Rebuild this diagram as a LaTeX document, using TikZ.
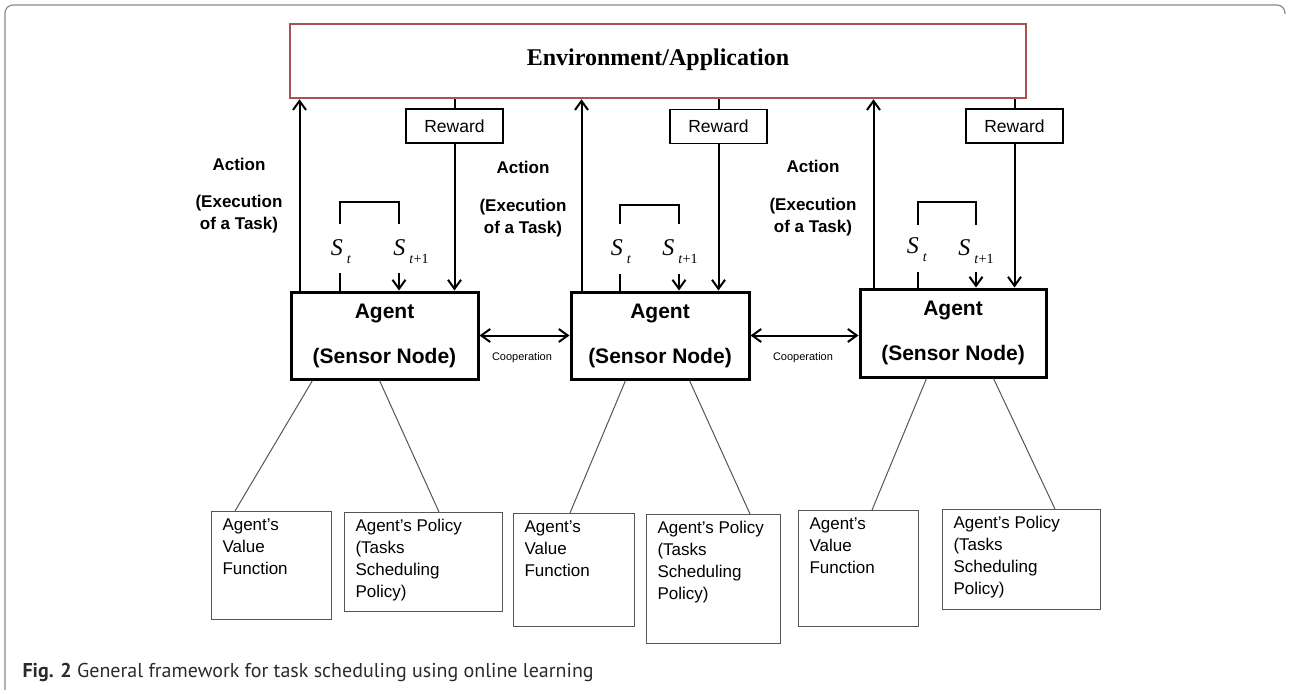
\documentclass[tikz,border=0pt]{standalone}
\usepackage{fontspec}
\setmainfont{Liberation Sans}
\newfontfamily\timesfont{Liberation Serif}
\newfontfamily\captionfont{PT Sans}
\usepackage{tikz}
\usetikzlibrary{arrows.meta,positioning,calc}
\definecolor{envred}{HTML}{A9524F}
\definecolor{framegray}{HTML}{8A8A8A}
\definecolor{boxline}{HTML}{555555}
\definecolor{captext}{HTML}{2B2B2B}
\newcommand{\statelab}[1]{\textit{S}\kern4pt\raisebox{-8pt}{\fontsize{14}{14}\selectfont #1}}
\tikzset{
  envnode/.style={draw=envred,line width=2.5pt,minimum width=736pt,minimum height=74pt,font=\timesfont\bfseries\fontsize{24}{24}\selectfont},
  agentnode/.style={draw,line width=3pt,minimum height=87pt,align=center,font=\bfseries\fontsize{21}{45}\selectfont},
  rewardnode/.style={draw,line width=1.2pt,minimum width=97pt,minimum height=34pt,font=\fontsize{17.5}{18}\selectfont},
  subnode/.style={draw=boxline,line width=1pt,anchor=north west,inner xsep=11pt,inner ysep=7pt,font=\fontsize{17}{22}\selectfont},
  statenode/.style={font=\timesfont\fontsize{24}{24}\selectfont},
  actlabel/.style={align=center,font=\bfseries\fontsize{17}{22}\selectfont},
  arrow/.style={-{Straight Barb[length=9pt,width=13pt]},line width=2pt},
  coarrow/.style={{Straight Barb[length=9pt,width=13pt]}-{Straight Barb[length=9pt,width=13pt]},line width=2pt},
  stateline/.style={line width=2pt},
  link/.style={boxline,line width=1pt}
}

\begin{document}
\begin{tikzpicture}[
  x=1pt,y=-1pt,
  coop/.style={font=\fontsize{11}{11}\selectfont},
  caption/.style={anchor=west,text=captext,font=\captionfont\fontsize{20}{20}\selectfont}
]
  \useasboundingbox (0,0) rectangle (1289,695);
  \draw[framegray,line width=1.2pt,rounded corners=8pt] (5,690) -- (5,5) -- (1285,5) -- (1285,14);

  \node[envnode] (env) at (658,61) {\raisebox{8pt}{Environment/Application}};

  \node[agentnode,minimum width=187pt] (ag1) at (384.5,335.5) {Agent\\(Sensor Node)};
  \node[agentnode,minimum width=178pt] (ag2) at (660,335.5) {Agent\\(Sensor Node)};
  \node[agentnode,minimum width=186pt,minimum height=88pt] (ag3) at (953,333) {Agent\\(Sensor Node)};

  \node[rewardnode] (r1) at (454.5,126) {Reward};
  \node[rewardnode] (r2) at (718.5,126.5) {Reward};
  \node[rewardnode] (r3) at (1014.5,126) {Reward};

  % Rewards
  \draw[stateline] (env.south -| r1) -- (r1.north);
  \draw[arrow] (r1.south) -- (r1.south |- ag1.north);
  \draw[stateline] (env.south -| r2) -- (r2.north);
  \draw[arrow] (r2.south) -- (r2.south |- ag2.north);
  \draw[stateline] (env.south -| r3) -- (r3.north);
  \draw[arrow] (r3.south) -- (r3.south |- ag3.north);

  % Actions
  \draw[arrow] ([xshift=10pt]ag1.north west) coordinate (a1) -- (a1 |- env.south);
  \draw[arrow] ([xshift=12pt]ag2.north west) coordinate (a2) -- (a2 |- env.south);
  \draw[arrow] ([xshift=15pt]ag3.north west) coordinate (a3) -- (a3 |- env.south);
  \node[actlabel] (act1) at (239,196) {Action\\[15pt](Execution\\of a Task)};
  \node[actlabel] (act2) at (523,199) {Action\\[16pt](Execution\\of a Task)};
  \node[actlabel] (act3) at (813,198) {Action\\[16pt](Execution\\of a Task)};

  % States
  \coordinate (s1a) at (340,224);
  \coordinate (s1b) at (399,224);
  \draw[stateline] (s1a) -- ++(0,-22) -| (s1b);
  \node[statenode] (st1) at (341,252) {\statelab{\textit{t}}};
  \node[statenode] (sn1) at (411,252) {\statelab{\textit{t}+1}};
  \draw[stateline] (s1a) ++(0,49) -- (s1a |- ag1.north);
  \draw[arrow] (s1b) ++(0,49) -- (s1b |- ag1.north);

  \coordinate (s2a) at (620,224);
  \coordinate (s2b) at (679,224);
  \draw[stateline] (s2a) -- ++(0,-19) -| (s2b);
  \node[statenode] (st2) at (621,252) {\statelab{\textit{t}}};
  \node[statenode] (sn2) at (680,252) {\statelab{\textit{t}+1}};
  \draw[stateline] (s2a) ++(0,50) -- (s2a |- ag2.north);
  \draw[arrow] (s2b) ++(0,50) -- (s2b |- ag2.north);

  \coordinate (s3a) at (918,225);
  \coordinate (s3b) at (976,225);
  \draw[stateline] (s3a) -- ++(0,-23) -| (s3b);
  \node[statenode] (st3) at (917,250) {\statelab{\textit{t}}};
  \node[statenode] (sn3) at (976,252) {\statelab{\textit{t}+1}};
  \draw[stateline] (s3a) ++(0,47) -- (s3a |- ag3.north);
  \draw[arrow] (s3b) ++(0,47) -- (s3b |- ag3.north);

  % Cooperation
  \draw[coarrow] (ag1.east) -- (ag1.east -| ag2.west);
  \draw[coarrow] (ag2.east) -- (ag2.east -| ag3.west);
  \node[coop] (c1) at (522,358) {Cooperation};
  \node[coop] (c2) at (803,358) {Cooperation};

  % Value functions and policies
  \node[subnode] (v1) at (211,511) {\parbox[c][94pt][t]{98pt}{Agent’s\\Value\\Function}};
  \node[subnode] (p1) at (344,512) {\parbox[c][85pt][t]{136pt}{Agent’s Policy\\(Tasks\\Scheduling\\Policy)}};
  \node[subnode] (v2) at (513,513) {\parbox[c][99pt][t]{99pt}{Agent’s\\Value\\Function}};
  \node[subnode] (p2) at (646,514) {\parbox[c][115pt][t]{112pt}{Agent’s Policy\\(Tasks\\Scheduling\\Policy)}};
  \node[subnode] (v3) at (798,510) {\parbox[c][102pt][t]{98pt}{Agent’s\\Value\\Function}};
  \node[subnode] (p3) at (942,509) {\parbox[c][86pt][t]{136pt}{Agent’s Policy\\(Tasks\\Scheduling\\Policy)}};

  \draw[link] ([xshift=23pt]ag1.south west) -- ([xshift=24pt]v1.north west);
  \draw[link] ([xshift=90pt]ag1.south west) -- ([xshift=95pt]p1.north west);
  \draw[link] ([xshift=56pt]ag2.south west) -- ([xshift=57pt]v2.north west);
  \draw[link] ([xshift=120pt]ag2.south west) -- ([xshift=104pt]p2.north west);
  \draw[link] ([xshift=68pt]ag3.south west) -- ([xshift=74pt]v3.north west);
  \draw[link] ([xshift=135pt]ag3.south west) -- ([xshift=113pt]p3.north west);

  \node[caption] (cap) at (19,672) {\textbf{Fig. 2} General framework for task scheduling using online learning};
\end{tikzpicture}
\end{document}
